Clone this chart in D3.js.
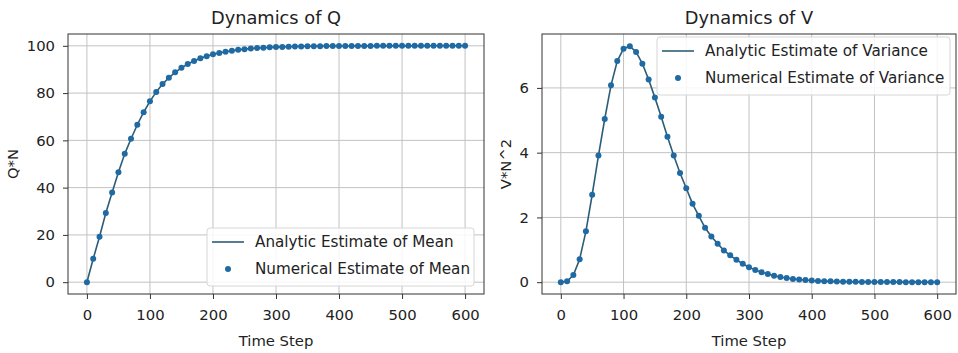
<!DOCTYPE html>
<html>
<head>
<meta charset="utf-8">
<script src="https://cdn.jsdelivr.net/npm/d3@7"></script>
<style>
  body { margin: 0; background: #fff; }
  svg { display: block; font-family: "DejaVu Sans", sans-serif; }
</style>
</head>
<body>
<div id="chart"></div>
<script>
// time steps at which both estimates were sampled
const timeSteps = [0, 10, 20, 30, 40, 50, 60, 70, 80, 90, 100, 110, 120, 130, 140, 150, 160, 170, 180, 190,
  200, 210, 220, 230, 240, 250, 260, 270, 280, 290, 300, 310, 320, 330, 340, 350, 360, 370, 380, 390,
  400, 410, 420, 430, 440, 450, 460, 470, 480, 490, 500, 510, 520, 530, 540, 550, 560, 570, 580, 590, 600];

// Q*N
const meanValues = [0, 9.9, 19.2, 29.3, 37.9, 46.5, 54.3, 60.7, 66.6, 71.9, 76.5, 80.5, 83.8, 86.5, 88.8,
  90.7, 92.3, 93.6, 94.7, 95.6, 96.4, 97.0, 97.5, 97.9, 98.3, 98.6, 98.85, 99.05, 99.2, 99.35, 99.45,
  99.55, 99.63, 99.7, 99.75, 99.8, 99.84, 99.87, 99.9, 99.92, 99.93, 99.94, 99.95, 99.96, 99.97, 99.97,
  99.98, 99.98, 99.98, 99.99, 99.99, 99.99, 99.99, 99.99, 100, 100, 100, 100, 100, 100, 100];

// V*N^2
const varianceValues = [0, 0.03, 0.22, 0.71, 1.57, 2.70, 3.91, 5.04, 6.08, 6.83, 7.21, 7.29, 7.11, 6.75,
  6.26, 5.70, 5.11, 4.49, 3.91, 3.37, 2.90, 2.42, 2.05, 1.68, 1.41, 1.19, 0.98, 0.83, 0.69, 0.57, 0.46,
  0.38, 0.31, 0.25, 0.20, 0.16, 0.13, 0.10, 0.08, 0.065, 0.05, 0.04, 0.032, 0.025, 0.02, 0.016, 0.012,
  0.01, 0.008, 0.006, 0.005, 0.004, 0.003, 0.002, 0.002, 0.001, 0.001, 0.001, 0.001, 0, 0];

const xTicks = [0, 100, 200, 300, 400, 500, 600];
const meanTicks = [0, 20, 40, 60, 80, 100];
const varianceTicks = [0, 2, 4, 6];

const width = 958, height = 353;
const lineColor = '#2c5d78';
const dotColor = '#1f6aa3';

const svg = d3.select('#chart').append('svg')
  .attr('width', width)
  .attr('height', height);

function drawPanel(cfg) {
  const { left, right, top, bottom } = cfg;
  const g = svg.append('g');

  const x = d3.scaleLinear().domain([-30, 630]).range([left, right]);
  const pad = (cfg.yMax - cfg.yMin) * 0.05;
  const y = d3.scaleLinear().domain([cfg.yMin - pad, cfg.yMax + pad]).range([bottom, top]);

  // grid
  g.append('g').selectAll('line').data(xTicks).enter().append('line')
    .attr('x1', d => x(d)).attr('x2', d => x(d))
    .attr('y1', top).attr('y2', bottom)
    .attr('stroke', '#c2c2c2').attr('stroke-width', 1);
  g.append('g').selectAll('line').data(cfg.yTicks).enter().append('line')
    .attr('x1', left).attr('x2', right)
    .attr('y1', d => y(d)).attr('y2', d => y(d))
    .attr('stroke', '#c2c2c2').attr('stroke-width', 1);

  // axes
  const xAxis = g.append('g')
    .attr('transform', `translate(0,${bottom})`)
    .call(d3.axisBottom(x).tickValues(xTicks).tickSize(5).tickPadding(10).tickSizeOuter(0));
  const yAxis = g.append('g')
    .attr('transform', `translate(${left},0)`)
    .call(d3.axisLeft(y).tickValues(cfg.yTicks).tickSize(5).tickPadding(8).tickSizeOuter(0));
  [xAxis, yAxis].forEach(a => {
    a.select('.domain').remove();
    a.selectAll('line').attr('stroke', '#333');
    a.selectAll('text').attr('fill', '#222').style('font-size', '14.8px').style('font-family', 'DejaVu Sans');
  });

  // frame
  g.append('rect')
    .attr('x', left).attr('y', top)
    .attr('width', right - left).attr('height', bottom - top)
    .attr('fill', 'none').attr('stroke', '#333').attr('stroke-width', 1);

  // analytic line
  const line = d3.line()
    .x((d, i) => x(timeSteps[i]))
    .y(d => y(d));
  g.append('path')
    .datum(cfg.values)
    .attr('d', line)
    .attr('fill', 'none')
    .attr('stroke', lineColor)
    .attr('stroke-width', 1.6);

  // numerical points
  g.append('g').selectAll('circle').data(cfg.values).enter().append('circle')
    .attr('cx', (d, i) => x(timeSteps[i]))
    .attr('cy', d => y(d))
    .attr('r', 3)
    .attr('fill', dotColor);

  // title and labels
  g.append('text')
    .attr('x', (left + right) / 2).attr('y', 24)
    .attr('text-anchor', 'middle')
    .style('font-size', '17.8px').attr('fill', '#222')
    .text(cfg.title);
  g.append('text')
    .attr('x', (left + right) / 2).attr('y', 346)
    .attr('text-anchor', 'middle')
    .style('font-size', '14.8px').attr('fill', '#222')
    .text('Time Step');
  g.append('text')
    .attr('transform', `translate(${cfg.yLabelX},${(top + bottom) / 2}) rotate(-90)`)
    .attr('text-anchor', 'middle')
    .style('font-size', '14.8px').attr('fill', '#222')
    .text(cfg.yLabel);

  // legend
  const lg = g.append('g').attr('transform', `translate(${cfg.legend.x},${cfg.legend.y})`);
  lg.append('rect')
    .attr('width', cfg.legend.w).attr('height', 58)
    .attr('rx', 3)
    .attr('fill', 'rgba(255,255,255,0.85)')
    .attr('stroke', '#d6d6d6');
  lg.append('line')
    .attr('x1', 5).attr('x2', 37).attr('y1', 14).attr('y2', 14)
    .attr('stroke', lineColor).attr('stroke-width', 1.6);
  lg.append('circle')
    .attr('cx', 21).attr('cy', 41).attr('r', 3).attr('fill', dotColor);
  lg.selectAll('text.lbl').data(cfg.legend.labels).enter().append('text')
    .attr('class', 'lbl')
    .attr('x', 48).attr('y', (d, i) => 19 + i * 27)
    .style('font-size', '15.2px').attr('fill', '#222')
    .text(d => d);
}

drawPanel({
  left: 68, right: 484, top: 34, bottom: 294,
  yMin: 0, yMax: 100, yTicks: meanTicks,
  values: meanValues,
  title: 'Dynamics of Q', yLabel: 'Q*N', yLabelX: 18,
  legend: { x: 207, y: 228, w: 267, labels: ['Analytic Estimate of Mean', 'Numerical Estimate of Mean'] }
});

drawPanel({
  left: 542, right: 956, top: 34, bottom: 294,
  yMin: 0, yMax: 7.3, yTicks: varianceTicks,
  values: varianceValues,
  title: 'Dynamics of V', yLabel: 'V*N^2', yLabelX: 511,
  legend: { x: 657, y: 37, w: 293, labels: ['Analytic Estimate of Variance', 'Numerical Estimate of Variance'] }
});
</script>
</body>
</html>
